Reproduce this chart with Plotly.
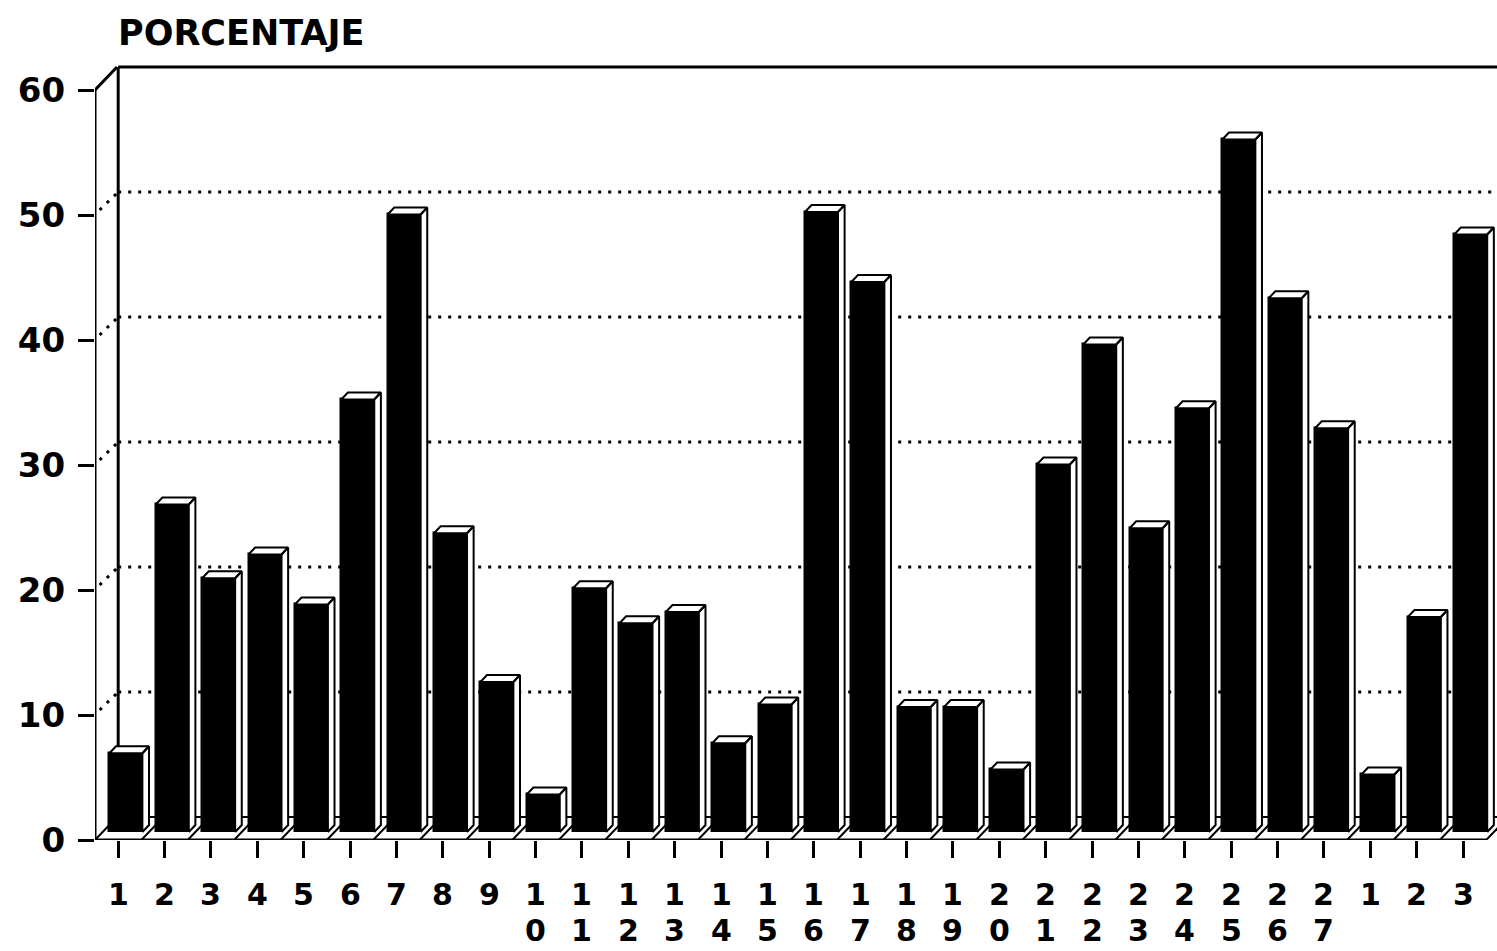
import plotly.graph_objects as go

# ---- data -------------------------------------------------------------
categories = list(range(1, 31))
tick_labels = [str(n) for n in range(1, 28)] + ["1", "2", "3"]
values = [6.3, 26.2, 20.3, 22.2, 18.2, 34.6, 49.4, 23.9, 12.0, 3.0,
          19.5, 16.7, 17.6, 7.1, 10.2, 49.6, 44.0, 10.0, 10.0, 5.0,
          29.4, 39.0, 24.3, 33.9, 55.4, 42.7, 32.3, 4.6, 17.2, 47.8]
grid_values = [10, 20, 30, 40, 50]
y_ticks = [0, 10, 20, 30, 40, 50, 60]
y_title = "PORCENTAJE"

# ---- 3-D box geometry (data units) ------------------------------------
DEPTH_X = 0.475          # horizontal shift from front plane to back wall
DEPTH_Y = 1.84           # vertical shift from front plane to back wall
BAR_HALF = 0.356         # half width of a bar's front face
BAR_FRONT, BAR_BACK = 0.35, 0.65   # bar depth span as fraction of floor depth
X_MIN, X_MAX = 0.5, 30.733
Y_MAX_AXIS = 62.4
Y_TOP = 60

FONT = dict(family="DejaVu Sans", size=34, color="black", weight="bold")
LABEL_FONT = dict(family="DejaVu Sans", size=30, color="black", weight="bold")
LINE = dict(color="black", width=3)

bar_base = BAR_FRONT * DEPTH_Y
bar_offset = -BAR_HALF + BAR_FRONT * DEPTH_X
ddx = (BAR_BACK - BAR_FRONT) * DEPTH_X
ddy = (BAR_BACK - BAR_FRONT) * DEPTH_Y
x_last = categories[-1] + 0.5

fig = go.Figure()

# front faces of the bars
fig.add_trace(go.Bar(
    x=categories, y=values, base=bar_base,
    width=2 * BAR_HALF, offset=bar_offset,
    marker=dict(color="black", line=dict(color="black", width=1.5)),
    hoverinfo="skip", showlegend=False,
))

# top and side faces of the bars
fx, fy = [], []
for c, v in zip(categories, values):
    left = c + bar_offset
    right = left + 2 * BAR_HALF
    top = bar_base + v
    fx += [left, right, right + ddx, left + ddx, left, None]
    fy += [top, top, top + ddy, top + ddy, top, None]
    fx += [right, right, right + ddx, right + ddx, right, None]
    fy += [bar_base, top, top + ddy, bar_base + ddy, bar_base, None]
fig.add_trace(go.Scatter(
    x=fx, y=fy, mode="lines", fill="toself", fillcolor="white",
    line=dict(color="black", width=2), hoverinfo="skip", showlegend=False,
))

shapes = []
# back wall and left side wall
shapes.append(dict(type="line", xref="x", yref="y", x0=1, y0=DEPTH_Y,
                   x1=1, y1=Y_TOP + DEPTH_Y, line=LINE, layer="below"))
shapes.append(dict(type="line", xref="x", yref="y", x0=1, y0=Y_TOP + DEPTH_Y,
                   x1=X_MAX, y1=Y_TOP + DEPTH_Y, line=LINE, layer="below"))
shapes.append(dict(type="line", xref="x", yref="y", x0=X_MIN, y0=Y_TOP,
                   x1=X_MIN + DEPTH_X, y1=Y_TOP + DEPTH_Y, line=LINE, layer="below"))
shapes.append(dict(type="line", xref="x", yref="y", x0=X_MIN, y0=0,
                   x1=X_MIN, y1=Y_TOP, line=LINE, layer="below"))
shapes.append(dict(type="line", xref="x", yref="y", x0=1, y0=DEPTH_Y,
                   x1=X_MAX, y1=DEPTH_Y, line=dict(color="black", width=2),
                   layer="below"))
# floor
shapes.append(dict(type="line", xref="x", yref="y", x0=X_MIN, y0=0,
                   x1=x_last, y1=0, line=LINE, layer="below"))
for k in range(len(categories) + 1):
    x0 = X_MIN + k
    shapes.append(dict(type="line", xref="x", yref="y", x0=x0, y0=0,
                       x1=x0 + DEPTH_X, y1=DEPTH_Y,
                       line=dict(color="black", width=2), layer="below"))
# dotted gridlines on the walls
DOT = dict(color="black", width=3, dash="3px,7px")
for g in grid_values:
    shapes.append(dict(type="line", xref="x", yref="y", x0=1, y0=g + DEPTH_Y,
                       x1=X_MAX, y1=g + DEPTH_Y, line=DOT, layer="below"))
    shapes.append(dict(type="line", xref="x", yref="y", x0=X_MIN + 0.1, y0=g + 0.4,
                       x1=1, y1=g + DEPTH_Y, line=DOT, layer="below"))

annotations = []
# category labels, multi-digit labels stacked vertically
for c, lab in zip(categories, tick_labels):
    annotations.append(dict(xref="x", yref="paper", x=c, y=-0.0705,
                            text=lab[0], showarrow=False, font=LABEL_FONT,
                            xanchor="center", yanchor="middle"))
    if len(lab) > 1:
        annotations.append(dict(xref="x", yref="paper", x=c, y=-0.1154,
                                text=lab[1:], showarrow=False, font=LABEL_FONT,
                                xanchor="center", yanchor="middle"))
annotations.append(dict(xref="paper", yref="paper", x=0.015, y=1.0346,
                        text=y_title, showarrow=False,
                        font=dict(family="DejaVu Sans", size=35, color="black",
                                  weight="bold"),
                        xanchor="left", yanchor="middle"))

fig.update_layout(
    width=1497, height=951,
    margin=dict(l=95, r=0, t=60, b=111),
    paper_bgcolor="white", plot_bgcolor="white",
    shapes=shapes, annotations=annotations,
    bargap=0, showlegend=False,
    xaxis=dict(range=[X_MIN, X_MAX], tickvals=categories, showticklabels=False,
               ticks="outside", ticklen=17, tickwidth=2.5, tickcolor="black",
               showgrid=False, zeroline=False, showline=False, fixedrange=True),
    yaxis=dict(range=[0, Y_MAX_AXIS], tickvals=y_ticks, ticks="outside",
               ticklen=16, tickwidth=3, tickcolor="black", tickfont=FONT,
               ticklabelstandoff=6,
               showgrid=False, zeroline=False, showline=False, fixedrange=True),
)

fig.write_html("out.html")
